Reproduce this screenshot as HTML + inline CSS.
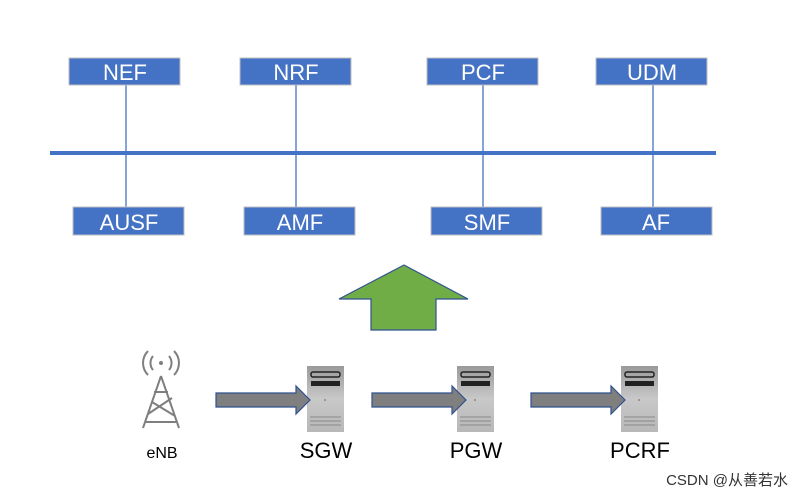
<!DOCTYPE html><html><head><style>body{margin:0;background:#fff}</style></head><body>
<svg width="805" height="497" xmlns="http://www.w3.org/2000/svg" font-family="Liberation Sans, 'Noto Sans CJK SC', sans-serif">
<defs><linearGradient id="g" x1="0" y1="0" x2="0" y2="1"><stop offset="0" stop-color="#9a9a9a"/><stop offset="0.5" stop-color="#c8c8c8"/><stop offset="1" stop-color="#b8b8b8"/></linearGradient>
<g id="srv"><rect x="0" y="0" width="37" height="66" fill="url(#g)"/><rect x="4" y="6" width="29" height="5" rx="2" fill="none" stroke="#222" stroke-width="1.5"/><rect x="4" y="15" width="29" height="5" fill="#222"/><circle cx="18" cy="34" r="1" fill="#888"/><path d="M3 51h31M3 55h31M3 59h31" stroke="#888"/></g>
<g id="arr"><polygon points="0,-7 80,-7 80,-14 94,0 80,14 80,7 0,7" fill="#7f7f7f" stroke="#2f528f" stroke-width="1.2"/></g></defs>
<line x1="50" y1="153" x2="716" y2="153" stroke="#4472c4" stroke-width="4"/>
<g stroke="#4472c4" stroke-width="1.3"><line x1="126" y1="85" x2="126" y2="207"/><line x1="296" y1="85" x2="296" y2="207"/><line x1="483" y1="85" x2="483" y2="207"/><line x1="653" y1="85" x2="653" y2="207"/></g>
<g fill="#4472c4" stroke="#bfbfbf" stroke-width="1"><rect x="69" y="58" width="111" height="27"/><rect x="240" y="58" width="111" height="27"/><rect x="427" y="58" width="111" height="27"/><rect x="596" y="58" width="111" height="27"/>
<rect x="73" y="207" width="111" height="28"/><rect x="244" y="207" width="111" height="28"/><rect x="431" y="207" width="111" height="28"/><rect x="601" y="207" width="111" height="28"/></g>
<g fill="#fff" font-size="22" text-anchor="middle"><text x="125" y="80">NEF</text><text x="296" y="80">NRF</text><text x="483" y="80">PCF</text><text x="652" y="80">UDM</text>
<text x="129" y="230">AUSF</text><text x="300" y="230">AMF</text><text x="487" y="230">SMF</text><text x="656" y="230">AF</text></g>
<polygon points="404,265 468,299 436,299 436,330 371,330 371,299 339,299" fill="#70ad47" stroke="#2f528f" stroke-width="1.2"/>
<use href="#srv" x="307" y="366"/><use href="#srv" x="457" y="366"/><use href="#srv" x="621" y="366"/>
<use href="#arr" x="216" y="400"/><use href="#arr" x="372" y="400"/><use href="#arr" x="531" y="400"/>
<g stroke="#7f7f7f" stroke-width="2" fill="none"><path d="M161 376 L143 428 M161 376 L179 428 M148 414 L172 398 M152 402 L175 416 M154 392 L168 392 M146 422 L176 422"/>
<path d="M153 356a11 11 0 0 0 0 14M169 356a11 11 0 0 1 0 14M148 351a17 17 0 0 0 0 24M174 351a17 17 0 0 1 0 24"/></g>
<circle cx="161" cy="363" r="2" fill="#7f7f7f"/>
<g fill="#000" text-anchor="middle"><text x="162" y="458" font-size="16">eNB</text><text x="326" y="458" font-size="22">SGW</text><text x="476" y="458" font-size="22">PGW</text><text x="640" y="458" font-size="22">PCRF</text></g>
<text x="788" y="485" font-size="15" fill="#333" text-anchor="end">CSDN @从善若水</text>
</svg></body></html>
